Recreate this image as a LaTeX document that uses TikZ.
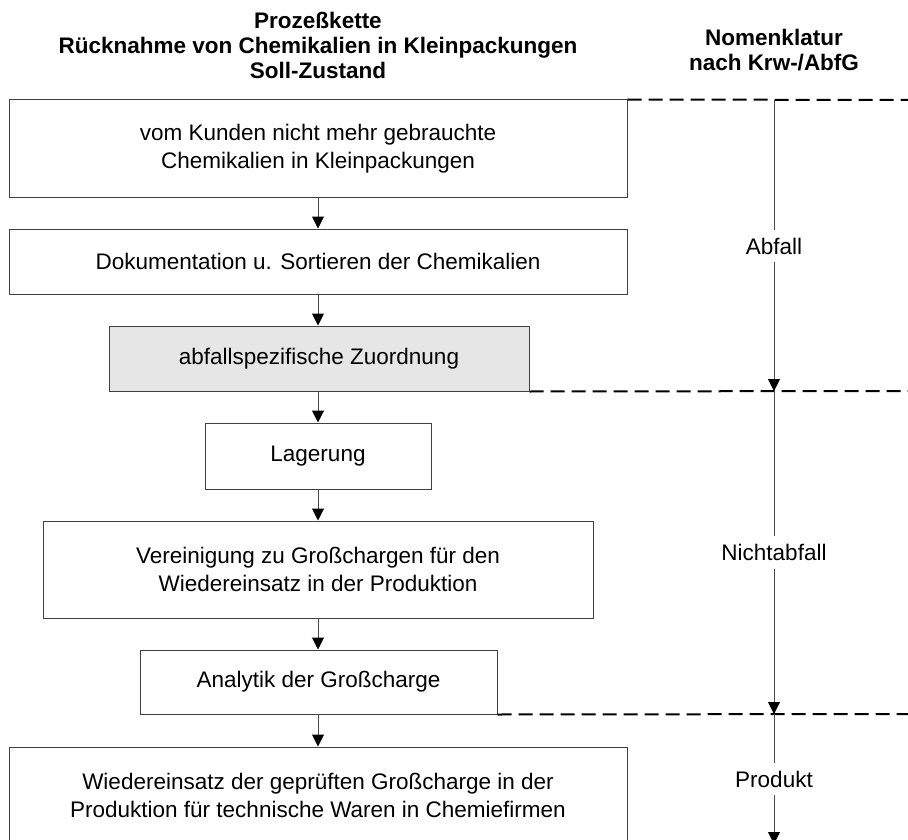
\documentclass[tikz,border=0pt]{standalone}
\usepackage{fontspec}
\setmainfont{Liberation Sans}
\usetikzlibrary{arrows.meta}
\definecolor{boxgray}{RGB}{230,230,230}
\begin{document}
\begin{tikzpicture}[x=1pt,y=-1pt,
  box/.style={draw=black!75, line width=1pt, align=center, inner sep=0pt,
    font=\fontsize{22.5}{28}\selectfont},
  hdr/.style={align=center, inner sep=0pt, font=\bfseries\fontsize{22.5}{25}\selectfont},
  lab/.style={inner sep=0pt, minimum height=32pt, font=\fontsize{22.5}{28}\selectfont},
  plain/.style={draw=black!70, line width=1pt},
  conn/.style={draw=black!70, line width=1pt, -{Triangle[width=12pt,length=12pt,black]}},
  dashline/.style={draw=black, line width=2pt, dash pattern=on 14pt off 7pt}
]
\useasboundingbox (0,0) rectangle (908,840);
\fill[white] (0,0) rectangle (908,840);

% headers
\node[hdr] (h1) at (318,45) {Prozeßkette\\Rücknahme von Chemikalien in Kleinpackungen\\Soll-Zustand};
\node[hdr] (h2) at (774,50) {Nomenklatur\\nach Krw-/AbfG};

% process boxes
\node[box, minimum width=618pt, minimum height=97pt] (b1) at (318,148.5)
  {vom Kunden nicht mehr gebrauchte\\Chemikalien in Kleinpackungen};
\node[box, minimum width=618pt, minimum height=65pt] (b2) at (318,261.5)
  {Dokumentation u. Sortieren der Chemikalien};
\node[box, fill=boxgray, minimum width=420pt, minimum height=65pt] (b3) at (319,358.5)
  {abfallspezifische Zuordnung};
\node[box, minimum width=226pt, minimum height=66pt] (b4) at (318,456)
  {Lagerung};
\node[box, minimum width=550pt, minimum height=97pt] (b5) at (318,569.5)
  {Vereinigung zu Großchargen für den\\Wiedereinsatz in der Produktion};
\node[box, minimum width=357pt, minimum height=64pt] (b6) at (318.5,682)
  {Analytik der Großcharge};
\node[box, minimum width=618pt, minimum height=96pt] (b7) at (318,795)
  {Wiedereinsatz der geprüften Großcharge in der\\Produktion für technische Waren in Chemiefirmen};

% flow arrows
\draw[conn] (b1.south) -- (b1.south |- b2.north);
\draw[conn] (b2.south) -- (b2.south |- b3.north);
\draw[conn] (b3.south -| b2.south) -- (b2.south |- b4.north);
\draw[conn] (b4.south -| b2.south) -- (b2.south |- b5.north);
\draw[conn] (b5.south -| b2.south) -- (b2.south |- b6.north);
\draw[conn] (b6.south -| b2.south) -- (b2.south |- b7.north);

% dashed boundaries
\coordinate (r0) at (908,100);
\coordinate (r1) at (908,391);
\coordinate (r2) at (908,714);
\draw[dashline] (b1.north east) -- (r0);
\draw[dashline] (b3.south east) -- (r1);
\draw[dashline] (b6.south east) -- (r2);

% nomenclature axis
\coordinate (v0) at (774,100);
\coordinate (v1) at (774,391);
\coordinate (v2) at (774,714);
\coordinate (v3) at (774,844);
\node[lab] (l1) at (774,246) {Abfall};
\node[lab] (l2) at (774,552.5) {Nichtabfall};
\node[lab] (l3) at (774,779) {Produkt};
\draw[plain] (v0) -- (l1.north);
\draw[conn] (l1.south) -- (v1);
\draw[plain] (v1) -- (l2.north);
\draw[conn] (l2.south) -- (v2);
\draw[plain] (v2) -- (l3.north);
\draw[conn] (l3.south) -- (v3);
\end{tikzpicture}
\end{document}
